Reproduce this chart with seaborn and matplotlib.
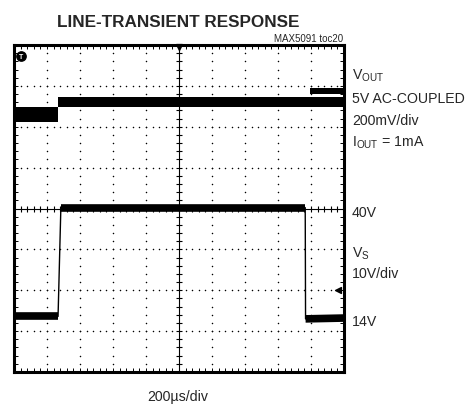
import numpy as np
import matplotlib
matplotlib.use('Agg')
import matplotlib.pyplot as plt
import seaborn as sns

# scope settings: 200us/div across 10 div, 8 vertical div
t_per_div = 200
vout_mv_per_div = 200
vs_v_per_div = 10
vs_center = 40          # 40V sits on the centre line
vout_center_div = 2.61  # where VOUT (AC-coupled 0 mV) sits on screen

# VOUT band, mV (upper / lower edge of the noisy trace)
vout_t = [-1000, -733, -733, 1000]
vout_hi = [-25, -25, 24, 24]
vout_lo = [-100, -100, -24, -24]
# second sweep showing near the right edge
vout2_t = [794, 1000]
vout2_hi = [70, 70]
vout2_lo = [40, 40]

# VS input step, volts
vs_t = [-1000, -733, -716, 765, 767, 1000]
vs_v = [13.6, 13.6, 40.2, 40.2, 13.0, 13.2]

sns.set_style('white')
plt.rcParams['font.family'] = ['Liberation Sans', 'DejaVu Sans']
plt.rcParams['mathtext.default'] = 'regular'

W, H = 469, 406
fig = plt.figure(figsize=(W / 100, H / 100), dpi=100)
ax = fig.add_axes([14 / W, 1 - 373 / H, 330 / W, 327 / H])
ax.set_xlim(-1000, 1000)
ax.set_ylim(-4, 4)

def vout_div(v):
    return vout_center_div + np.asarray(v) / vout_mv_per_div

def vs_div(v):
    return (np.asarray(v) - vs_center) / vs_v_per_div

# dotted graticule
minor_x = np.arange(-1000, 1001, 40)
minor_y = np.arange(-4, 4.01, 0.2)
for k in range(-4, 5):
    if k == 0:
        continue
    ax.scatter(np.full(minor_y.size, k * t_per_div), minor_y, s=1.2, color='black', lw=0, zorder=1)
for j in range(-3, 4):
    if j == 0:
        continue
    ax.scatter(minor_x, np.full(minor_x.size, j), s=1.2, color='black', lw=0, zorder=1)

# centre cross with ticks
ax.axhline(0, color='black', lw=0.8, zorder=1)
ax.axvline(0, color='black', lw=0.8, zorder=1)
ax.scatter(minor_x, np.zeros(minor_x.size), marker='|', s=14, color='black', lw=0.8, zorder=1)
ax.scatter(np.zeros(minor_y.size), minor_y, marker='_', s=14, color='black', lw=0.8, zorder=1)

# traces
ax.fill_between(vout_t, vout_div(vout_lo), vout_div(vout_hi), color='black', lw=0, zorder=3)
ax.fill_between(vout2_t, vout_div(vout2_lo), vout_div(vout2_hi), color='black', lw=0, zorder=3)

vs_y = vs_div(vs_v)
sns.lineplot(x=vs_t, y=vs_y, ax=ax, color='black', lw=1.0, estimator=None, sort=False, zorder=3)
for i in (0, 2, 4):
    sns.lineplot(x=vs_t[i:i + 2], y=vs_y[i:i + 2], ax=ax, color='black', lw=5.5,
                 estimator=None, sort=False, zorder=3, solid_capstyle='butt')

# trigger markers
ax.scatter([-955], [3.72], s=45, color='black', zorder=5, clip_on=False)
ax.text(-955, 3.72, 'T', color='white', fontsize=5, fontweight='bold', ha='center', va='center', zorder=6)
ax.scatter([0], [3.95], marker='v', s=18, color='black', zorder=5, clip_on=False)
ax.scatter([965], [-2.0], marker='<', s=18, color='black', zorder=5, clip_on=False)

# border with inward ticks
ax.set_xticks(minor_x)
ax.set_yticks(minor_y)
ax.tick_params(direction='in', length=3, width=0.7, top=True, right=True, bottom=True, left=True,
               labelbottom=False, labelleft=False, colors='black')
for s in ax.spines.values():
    s.set_linewidth(2.2)
    s.set_color('black')

def px(x, y):
    return x / W, 1 - y / H

fig.text(*px(178, 27), 'LINE-TRANSIENT RESPONSE', ha='center', va='baseline', fontsize=12.3,
         fontweight='bold')
fig.text(*px(343, 41.5), 'MAX5091 toc20', ha='right', va='baseline', fontsize=7)

lab = dict(ha='left', va='baseline', fontsize=10.2)
fig.text(*px(352, 79.3), r'V$_{OUT}$', **lab)
fig.text(*px(352, 102.7), '5V AC-COUPLED', **lab)
fig.text(*px(352, 125), '200mV/div', **lab)
fig.text(*px(352, 146.7), r'I$_{OUT}$ = 1mA', **lab)
fig.text(*px(352, 216.7), '40V', **lab)
fig.text(*px(352, 258), r'V$_{S}$', **lab)
fig.text(*px(352, 278), '10V/div', **lab)
fig.text(*px(352, 325.7), '14V', **lab)
fig.text(*px(178, 400.7), '200µs/div', ha='center', va='baseline', fontsize=10.2)

fig.savefig('out.png', dpi=100)
